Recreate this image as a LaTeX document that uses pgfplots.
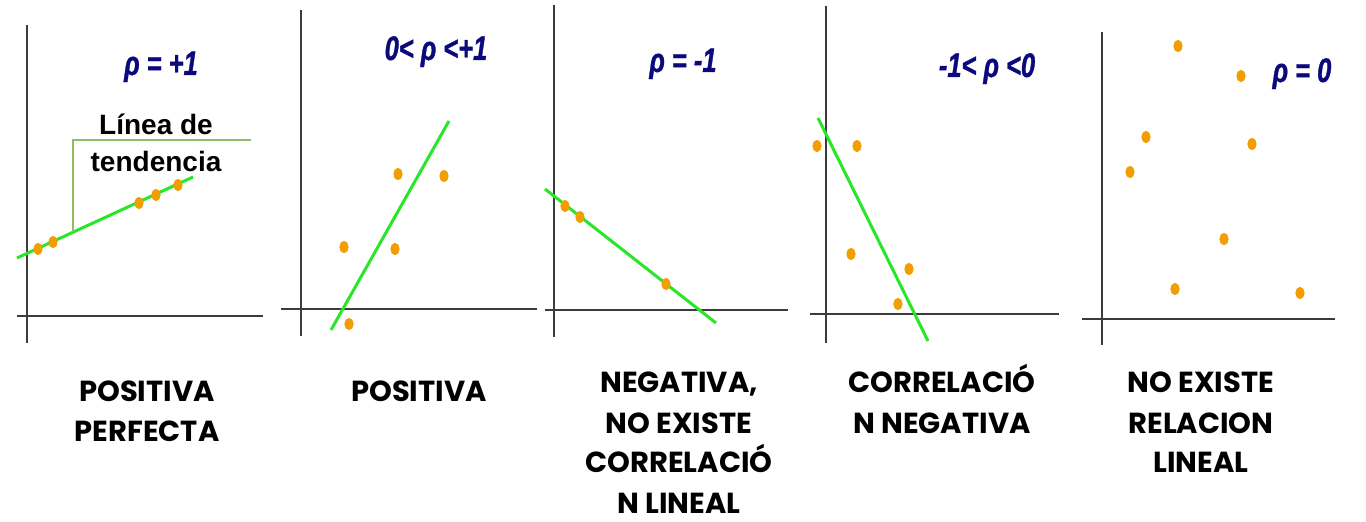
\documentclass[border=0pt]{standalone}
\usepackage{pgfplots}
\pgfplotsset{compat=1.18}
\usepackage{fontspec}
\setmainfont{Liberation Sans}
\newfontfamily\rhofont[FakeStretch=0.75, FakeBold=1]{Liberation Sans}
\newfontfamily\capfont{Poppins}

\definecolor{dot}{RGB}{242,157,0}
\definecolor{trend}{RGB}{40,230,40}
\definecolor{bracket}{RGB}{140,190,100}
\definecolor{navy}{RGB}{10,10,125}
\definecolor{axline}{RGB}{60,60,60}

% one pixel of the reference = 0.5pt, y counted downwards
\pgfplotsset{
  panel/.style={hide axis, clip=false, x=0.5pt, y=0.5pt, y dir=reverse,
    ymin=0, ymax=522, anchor=north west},
  ax/.style={axline, line width=0.75pt, no marks},
  fit/.style={trend, line width=1.5pt, no marks},
  pts/.style={only marks, mark=*, mark size=2.1pt, color=dot,
    mark options={fill=dot, draw=none, yscale=1.35}},
}
\tikzset{
  rho/.style={font=\rhofont\bfseries\itshape\fontsize{17}{20}\selectfont,
    text=navy, anchor=base, inner sep=0pt},
  botlab/.style={font=\capfont\bfseries\fontsize{14.5}{17}\selectfont,
    anchor=base, inner sep=0pt},
  lbl/.style={font=\bfseries\fontsize{14}{16}\selectfont, anchor=base, inner sep=0pt},
}

\begin{document}
\begin{tikzpicture}
\path[use as bounding box] (0,0) rectangle (683pt,-261pt);

% --- rho = +1
\begin{axis}[panel, xmin=0, xmax=270, at={(0pt,0pt)}]
  \addplot[ax] coordinates {(27,25) (27,343)};
  \addplot[ax] coordinates {(17,316) (263,316)};
  \addplot[fit] coordinates {(17,258) (193,177)};
  \addplot[bracket, line width=0.6pt, no marks] coordinates {(73,232) (73,140) (251,140)};
  \addplot[pts] coordinates {(38,249) (53,242) (139,203) (156,195) (178,185)};
  \node[rho] at (axis cs:161,75) {ρ = +1};
  \node[lbl] at (axis cs:156,135) {Línea de};
  \node[lbl] at (axis cs:156,172) {tendencia};
  \node[botlab] at (axis cs:147,401) {POSITIVA};
  \node[botlab] at (axis cs:147,441) {PERFECTA};
\end{axis}

% --- 0 < rho < +1
\begin{axis}[panel, xmin=270, xmax=540, at={(135pt,0pt)}]
  \addplot[ax] coordinates {(301,10) (301,336)};
  \addplot[ax] coordinates {(281,309) (537,309)};
  \addplot[fit] coordinates {(331,330) (449,121)};
  \addplot[pts] coordinates {(398,174) (444,176) (344,247) (395,249) (349,324)};
  \node[rho] at (axis cs:436,60) {0< ρ <+1};
  \node[botlab] at (axis cs:419,401) {POSITIVA};
\end{axis}

% --- rho = -1
\begin{axis}[panel, xmin=540, xmax=800, at={(270pt,0pt)}]
  \addplot[ax] coordinates {(554,5) (554,337)};
  \addplot[ax] coordinates {(545,310) (788,310)};
  \addplot[fit] coordinates {(545,189) (716,323)};
  \addplot[pts] coordinates {(565,206) (580,217) (666,284)};
  \node[rho] at (axis cs:683,72) {ρ = -1};
  \node[botlab] at (axis cs:679,393) {NEGATIVA,};
  \node[botlab] at (axis cs:679,433) {NO EXISTE};
  \node[botlab] at (axis cs:679,473) {CORRELACIÓ};
  \node[botlab] at (axis cs:679,513) {N LINEAL};
\end{axis}

% --- -1 < rho < 0
\begin{axis}[panel, xmin=800, xmax=1070, at={(400pt,0pt)}]
  \addplot[ax] coordinates {(826,6) (826,343)};
  \addplot[ax] coordinates {(810,314) (1059,314)};
  \addplot[fit] coordinates {(818,118) (928,341)};
  \addplot[pts] coordinates {(817,146) (857,146) (851,254) (909,269) (898,304)};
  \node[rho] at (axis cs:987,77) {-1< ρ <0};
  \node[botlab] at (axis cs:942,393) {CORRELACIÓ};
  \node[botlab] at (axis cs:942,434) {N NEGATIVA};
\end{axis}

% --- rho = 0
\begin{axis}[panel, xmin=1070, xmax=1366, at={(535pt,0pt)}]
  \addplot[ax] coordinates {(1102,32) (1102,345)};
  \addplot[ax] coordinates {(1082,319) (1335,319)};
  \addplot[pts] coordinates {(1178,46) (1241,76) (1146,137) (1130,172)
    (1252,144) (1224,239) (1175,289) (1300,293)};
  \node[rho] at (axis cs:1302,82) {ρ = 0};
  \node[botlab] at (axis cs:1201,393) {NO EXISTE};
  \node[botlab] at (axis cs:1201,433) {RELACION};
  \node[botlab] at (axis cs:1201,473) {LINEAL};
\end{axis}
\end{tikzpicture}
\end{document}
